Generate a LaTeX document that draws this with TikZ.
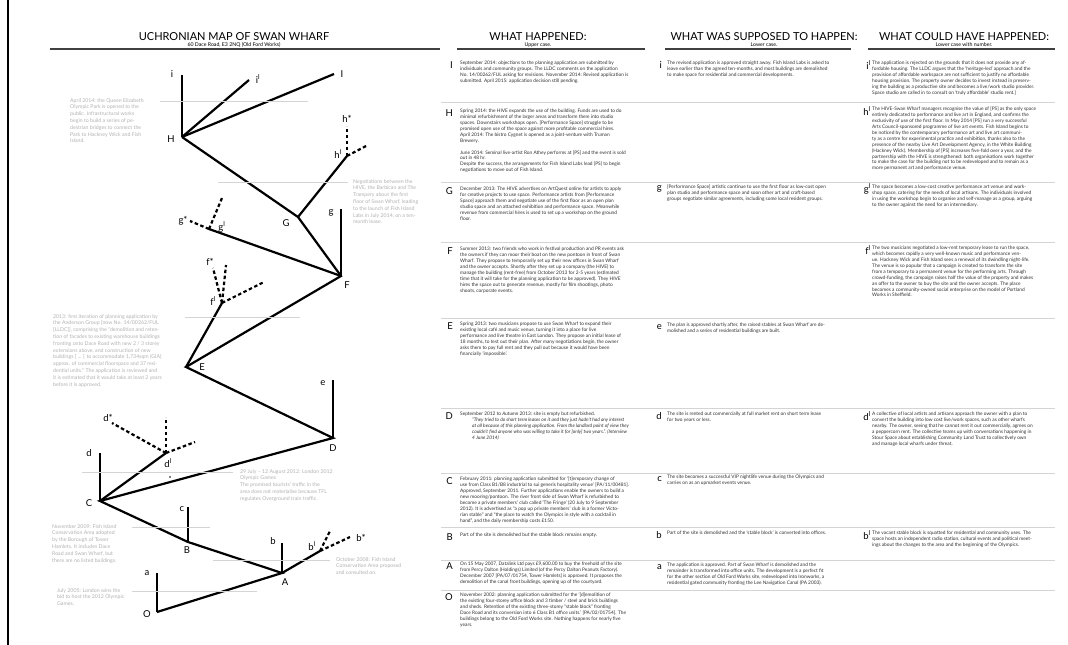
\documentclass[tikz,border=0pt]{standalone}
\usepackage{fontspec}
\setmainfont{Lato}
\usetikzlibrary{positioning}
\definecolor{inkgrey}{HTML}{303030}
\definecolor{notegrey}{HTML}{B2B2B2}
\definecolor{rulegrey}{HTML}{D4D4D4}
\tikzstyle{branch} = [line width=2.2pt, line cap=butt, line join=miter]
\tikzstyle{ghost} = [line width=2.2pt, dash pattern=on 3.5pt off 2.5pt]
\tikzstyle{vlabel} = [inner sep=0pt, font=\fontsize{9.5}{10}\selectfont]
\tikzstyle{note} = [inner sep=0pt, anchor=north west, align=left, text=notegrey, font=\fontsize{5.2}{6.8}\selectfont]
\tikzstyle{body} = [inner sep=0pt, anchor=north west, align=left, text=inkgrey, font=\fontsize{4.8}{5.9}\selectfont]
\tikzstyle{quote} = [body, font=\fontsize{4.8}{5.9}\selectfont\itshape]
\tikzstyle{rowletter} = [inner sep=0pt, font=\fontsize{9.5}{10}\selectfont]
\tikzstyle{heading} = [inner sep=0pt, font=\fontsize{11}{12}\selectfont]
\tikzstyle{subhead} = [inner sep=0pt, font=\fontsize{5.2}{6}\selectfont]
\tikzstyle{headrule} = [line width=1.1pt, draw=black!75]
\tikzstyle{rowrule} = [line width=0.8pt, draw=rulegrey]
\tikzstyle{timeline} = [line width=0.6pt, draw=rulegrey]

\begin{document}
\begin{tikzpicture}[x=1pt, y=-1pt]
\useasboundingbox[fill=white] (0,0) rectangle (1068,645);
\draw[line width=2pt] (8,0) -- (8,645);

% headings
\node[heading] (hdMap) at (234,37) {UCHRONIAN MAP OF SWAN WHARF};
\node[subhead] (sbMap) at (234,45) {60 Dace Road, E3 2NQ (Old Ford Works)};
\draw[headrule] (50,49) -- (440,49);
\node[heading] (hdDid) at (538,37) {WHAT HAPPENED:};
\node[subhead] (sbDid) at (538,45) {Upper case.};
\draw[headrule] (457,49) -- (645,49);
\node[heading] (hdWas) at (764,37) {WHAT WAS SUPPOSED TO HAPPEN:};
\node[subhead] (sbWas) at (764,45) {Lower case.};
\draw[headrule] (665,49) -- (851,49);
\node[heading] (hdCould) at (964,37) {WHAT COULD HAVE HAPPENED:};
\node[subhead] (sbCould) at (964,45) {Lower case with number.};
\draw[headrule] (868,49) -- (1055,49);

% row rules
\foreach \ry in {102,182,242,318,408,473,527,560,590}
  \draw[rowrule] (441,\ry) -- (1055,\ry);

% tree
\coordinate (vO) at (157,612);  \coordinate (va) at (157,573);
\coordinate (vA) at (282,573);  \coordinate (vb) at (282,543);
\coordinate (vb1) at (320,551); \coordinate (xb1) at (330,531); \coordinate (vbs) at (350,537);
\coordinate (vB) at (188,542);  \coordinate (vc) at (188,507);
\coordinate (vC) at (100,501);  \coordinate (vd) at (100,453);
\coordinate (vd1) at (166,453); \coordinate (xd1) at (166,417); \coordinate (xd2) at (195,442); \coordinate (vds) at (112,423);
\coordinate (vD) at (333,438);  \coordinate (ve) at (333,380);
\coordinate (vE) at (186,367);
\coordinate (vf1) at (222,303); \coordinate (xf1) at (226,265); \coordinate (xf2) at (264,282); \coordinate (vfs) at (213,268);
\coordinate (vF) at (341,276);  \coordinate (vg) at (341,209);
\coordinate (vg1) at (209,229); \coordinate (xg1) at (222,198); \coordinate (vgs) at (190,221);
\coordinate (vG) at (298,217);
\coordinate (vh1) at (347,156); \coordinate (vhs) at (347,126); \coordinate (xh1) at (368,145);
\coordinate (vH) at (182,137);  \coordinate (vi) at (182,75);
\coordinate (vi1) at (249,80);  \coordinate (vI) at (334,74);

\draw[branch] (vO) -- (vA) -- (vB) -- (vC) -- (vD) -- (vE) -- (vF) -- (vG) -- (vH);
\draw[branch] (vO) -- (va);
\draw[branch] (vA) -- (vb);
\draw[branch] (vA) -- (vb1);
\draw[branch] (vB) -- (vc);
\draw[branch] (vC) -- (vd);
\draw[branch] (vC) -- (vd1);
\draw[branch] (vD) -- (ve);
\draw[branch] (vE) -- (vf1);
\draw[branch] (vF) -- (vg);
\draw[branch] (vF) -- (vg1);
\draw[branch] (vG) -- (vh1);
\draw[branch] (vH) -- (vi);
\draw[branch] (vH) -- (vi1);
\draw[branch] (vH) -- (vI);
\foreach \s/\t in {vb1/xb1, vb1/vbs, vd1/xd1, vd1/xd2, vd1/vds, vf1/xf1, vf1/xf2, vf1/vfs, vg1/xg1, vg1/vgs, vh1/vhs, vh1/xh1}
  \draw[ghost] (\s) -- (\t);
\fill (170,477) circle (0.8);

\node[vlabel] (lO) at (147,614) {O};
\node[vlabel] (la) at (147,573) {a};
\node[vlabel] (lA) at (285,582) {A};
\node[vlabel] (lb) at (273,541) {b};
\node[vlabel] (lb1) at (312,546) {b\textsuperscript{l}};
\node[vlabel] (lbs) at (361,538) {b*};
\node[vlabel] (lB) at (187,550) {B};
\node[vlabel] (lc) at (182,509) {c};
\node[vlabel] (lC) at (89,503) {C};
\node[vlabel] (ld) at (89,453) {d};
\node[vlabel] (ld1) at (168,463) {d\textsuperscript{l}};
\node[vlabel] (lds) at (108,418) {d*};
\node[vlabel] (lD) at (333,448) {D};
\node[vlabel] (le) at (323,383) {e};
\node[vlabel] (lE) at (202,367) {E};
\node[vlabel] (lf1) at (213,301) {f\textsuperscript{l}};
\node[vlabel] (lfs) at (210,262) {f*};
\node[vlabel] (lF) at (347,285) {F};
\node[vlabel] (lg) at (331,213) {g};
\node[vlabel] (lg1) at (222,227) {g\textsuperscript{l}};
\node[vlabel] (lgs) at (183,221) {g*};
\node[vlabel] (lG) at (286,223) {G};
\node[vlabel] (lh1) at (338,154) {h\textsuperscript{l}};
\node[vlabel] (lhs) at (347,119) {h*};
\node[vlabel] (lH) at (171,139) {H};
\node[vlabel] (li) at (172,74) {i};
\node[vlabel] (li1) at (258,79) {i\textsuperscript{l}};
\node[vlabel] (lI) at (342,74) {I};

% timeline notes
\draw[timeline] (160,101) -- (308,101);
\node[note] (nPark) at (70,98) {April 2014: the Queen Elizabeth\\Olympic Park is opened to the\\public. Infrastructural works\\begin to build a series of pe-\\destrian bridges to connect the\\Park to Hackney Wick and Fish\\Island.};
\draw[timeline] (218,182) -- (348,182);
\node[note] (nLabs) at (353,179) {Negotiations between the\\HIVE, the Barbican and The\\Trampery about the first\\floor of Swan Wharf, leading\\to the launch of Fish Island\\Labs in July 2014, on a ten-\\month lease.};
\draw[timeline] (185,317) -- (300,317);
\node[note] (nAnderson) at (53,314) {2013: first iteration of planning application by\\the Anderson Group [now No. 14/00262/FUL\\{[}LLDC{]}], comprising  the ``demolition and reten-\\tion of facades to existing warehouse buildings\\fronting onto Dace Road with new 2 / 3 storey\\extensions above, and construction of new\\buildings [ ... ] to accommodate 1,734sqm (GIA)\\approx. of commercial floorspace and 37 resi-\\dential units.'' The application is reviewed and\\it is estimated that it would take at least 2 years\\before it is approved.};
\draw[timeline] (82,472) -- (233,472);
\node[note] (nGames) at (240,469) {29 July -- 12 August 2012: London 2012\\Olympic Games\\The promised tourists' traffic in the\\area does not materialise because TFL\\regulates Overground train traffic.};
\draw[timeline] (132,527) -- (210,527);
\node[note] (nAdopted) at (52,524) {November 2009: Fish Island\\Conservation Area adopted\\by the Borough of Tower\\Hamlets. It includes Dace\\Road and Swan Wharf, but\\there are no listed buildings.};
\draw[timeline] (213,560) -- (330,560);
\node[note] (nProposed) at (336,557) {October 2008: Fish Island\\Conservation Area proposed\\and consulted on.};
\draw[timeline] (132,591) -- (257,591);
\node[note] (nBid) at (57,588) {July 2005: London wins the\\bid to host the 2012 Olympic\\Games.};

% what happened
\node[body] (tI) at (460,61) {September 2014: objections to the planning application are submitted by\\individuals and community groups. The LLDC comments on the application\\No. 14/00262/FUL asking for revisions. November 2014: Revised application is\\submitted. April 2015: application decision still pending.};
\node[rowletter, left=7pt] (kI) at ([yshift=-4pt]tI.north west) {I};
\node[body] (tH) at (460,109) {Spring 2014: the HIVE expands the use of the building.  Funds are used to do\\minimal refurbishment of the larger areas and transform them into studio\\spaces. Downstairs workshops open. [Performance Space] struggle to be\\promised open use of the space against more profitable commercial hires.\\April 2014: The bistro Cygnet is opened as a joint-venture with Truman\\Brewery.\\[5.9pt]June 2014: Seminal live-artist Ron Athey performs at [PS] and the event is sold\\out in 48 hr.\\Despite the success, the arrangements for Fish Island Labs lead [PS] to begin\\negotiations to move out of Fish Island.};
\node[rowletter, left=7pt] (kH) at ([yshift=-4pt]tH.north west) {H};
\node[body] (tG) at (460,187) {December 2013: The HIVE advertises on ArtQuest online for artists to apply\\for creative projects to use space. Performance artists from [Performance\\Space] approach them and negotiate use of the first floor as an open plan\\studio space and an attached exhibition and performance space. Meanwhile\\revenue from commercial hires is used to set up a workshop on the ground\\floor.};
\node[rowletter, left=7pt] (kG) at ([yshift=-4pt]tG.north west) {G};
\node[body] (tF) at (460,247) {Summer 2013: two friends who work in festival production and PR events ask\\the owners if they can moor their boat on the new pontoon in front of Swan\\Wharf. They propose to temporarily set up their new offices in Swan Wharf\\and the owner accepts. Shortly after they set up a company (the HIVE) to\\manage the building (rent-free) from October 2013 for 2-5 years (estimated\\time that it will take for the planning application to be approved). They HIVE\\hires the space out to generate revenue, mostly for film shootings, photo\\shoots, corporate events.};
\node[rowletter, left=7pt] (kF) at ([yshift=-4pt]tF.north west) {F};
\node[body] (tE) at (460,322) {Spring 2013: two musicians propose to use Swan Wharf to expand their\\existing local café and music venue, turning it into a place for live\\performance and live theatre in East London. They propose an initial lease of\\18 months, to test out their plan. After many negotiations begin, the owner\\asks them to pay full rent and they pull out because it would have been\\financially `impossible'.};
\node[rowletter, left=7pt] (kE) at ([yshift=-4pt]tE.north west) {E};
\node[body] (tD) at (460,412) {September 2012 to \textit{Autumn} 2013: site is empty but refurbished.};
\node[quote] (qD) at (472,418) {``They tried to do short term leases on it and they just hadn't had any interest\\at all because of this planning application. From the landlord point of view they\\couldn't find anyone who was willing to take it for [only] two years.''. (Interview\\4 June 2014)};
\node[rowletter, left=7pt] (kD) at ([yshift=-4pt]tD.north west) {D};
\node[body] (tC) at (460,477) {February 2011: planning application submitted for `[t]emporary change of\\use from Class B1/B8 industrial to sui generis hospitality venue' [PA/11/00481].\\Approved, September 2011. Further applications enable the owners to build a\\new mooring/pontoon. The river front side of Swan Wharf is refurbished to\\become a private members' club called `The Fringe' (20 July to 9 September\\2012). It is advertised as ``a pop up private members' club in a former Victo-\\rian stable'' and ``the place to watch the Olympics in style with a cocktail in\\hand'', and the daily membership costs £150.};
\node[rowletter, left=7pt] (kC) at ([yshift=-4pt]tC.north west) {C};
\node[body] (tB) at (460,533) {Part of the site is demolished but the stable block remains empty.};
\node[rowletter, left=7pt] (kB) at ([yshift=-4pt]tB.north west) {B};
\node[body] (tA) at (460,562) {On 15 May 2007, Datalink Ltd pays £9,600.00 to buy the freehold of the site\\from Percy Dalton (Holdings) Limited (of the Percy Dalton Peanuts Factory).\\December 2007 [PA/07/01754, Tower Hamlets] is approved.  It proposes the\\demolition of the canal front buildings, opening up of the courtyard.};
\node[rowletter, left=7pt] (kA) at ([yshift=-4pt]tA.north west) {A};
\node[body] (tO) at (460,593) {November 2002: planning application submitted for the `[d]emolition of\\the existing four-storey office block and 3 timber / steel and brick buildings\\and sheds. Retention of the existing three-storey ``stable block'' fronting\\Dace Road and its conversion into 6 Class B1 office units.' [PA/02/01754]. The\\buildings belong to the Old Ford Works site. Nothing happens for nearly five\\years.};
\node[rowletter, left=7pt] (kO) at ([yshift=-4pt]tO.north west) {O};

% what was supposed to happen
\node[body] (ti) at (667,61) {The revised application is approved straight away. Fish Island Labs is asked to\\leave earlier than the agreed ten-months, and most buildings are demolished\\to make space for residential and commercial developments.};
\node[rowletter, left=5pt] (ki) at ([yshift=-4pt]ti.north west) {i};
\node[body] (tg) at (667,185) {[Performance Space] artistic continue to use the first floor as low-cost open\\plan studio and performance space and soon other art and craft-based\\groups negotiate similar agreements, including some local resident groups.};
\node[rowletter, left=5pt] (kg) at ([yshift=-4pt]tg.north west) {g};
\node[body] (te) at (667,323) {The plan is approved shortly after, the raised stables at Swan Wharf are de-\\molished and a series of residential buildings are built.};
\node[rowletter, left=5pt] (ke) at ([yshift=-4pt]te.north west) {e};
\node[body] (td) at (667,412) {The site is rented out commercially at full market rent on short term lease\\for two years or less.};
\node[rowletter, left=5pt] (kd) at ([yshift=-4pt]td.north west) {d};
\node[body] (tc) at (667,475) {The site becomes a successful VIP nightlife venue during the Olympics and\\carries on as an upmarket events venue.};
\node[rowletter, left=5pt] (kc) at ([yshift=-4pt]tc.north west) {c};
\node[body] (tb) at (667,531) {Part of the site is demolished and the `stable block' is converted into offices.};
\node[rowletter, left=5pt] (kb) at ([yshift=-4pt]tb.north west) {b};
\node[body] (ta) at (667,563) {The application is approved. Part of Swan Wharf is demolished and the\\remainder is transformed into office units. The development is a perfect fit\\for the other section of Old Ford Works site, redeveloped into Ironworks, a\\residential gated community fronting the Lee Navigation Canal (PA 2003).};
\node[rowletter, left=5pt] (ka) at ([yshift=-4pt]ta.north west) {a};

% what could have happened
\node[body] (ti1) at (872,61) {The application is rejected on the grounds that it does not provide any af-\\fordable housing. The LLDC argues that the `heritage-led' approach and the\\provision of affordable workspace are not sufficient to justify no affordable\\housing provision. The property owner decides to invest instead in preserv-\\ing the building as a productive site and becomes a live/work studio provider.\\Space studio are called in to consult on `truly affordable' studio rent.]};
\node[rowletter, left=1pt] (ki1) at ([yshift=-4pt]ti1.north west) {i\textsuperscript{l}};
\node[body] (th1) at (872,107) {The HIVE-Swan Wharf managers recognise the value of [PS] as the only space\\entirely dedicated to performance and live art in England, and confirms the\\exclusivity of use of the first floor. In May 2014 [PS] run a very successful\\Arts Council-sponsored programme of live art events. Fish Island begins to\\be noticed by the contemporary performance art and live art communi-\\ty as a centre for experimental practice and exhibition, thanks also to the\\presence of the nearby Live Art Development Agency, in the White Building\\(Hackney Wick). Membership of [PS] increases five-fold over a year, and the\\partnership with the HIVE is strengthened: both organisations work together\\to make the case for the building not to be redeveloped and to remain as a\\more permanent art and performance venue.};
\node[rowletter, left=1pt] (kh1) at ([yshift=-4pt]th1.north west) {h\textsuperscript{l}};
\node[body] (tg1) at (872,185) {The space becomes a low-cost creative performance art venue and work-\\shop space, catering for the needs of local artisans. The individuals involved\\in using the workshop begin to organise and self-manage as a group, arguing\\to the owner against the need for an intermediary.};
\node[rowletter, left=1pt] (kg1) at ([yshift=-4pt]tg1.north west) {g\textsuperscript{l}};
\node[body] (tf1) at (872,246) {The two musicians negotiated a low-rent temporary lease to run the space,\\which becomes rapidly a very well-known music and performance ven-\\ue.  Hackney Wick and Fish Island sees a renewal of its dwindling night-life.\\The venue is so popular that a campaign is created to transform the site\\from a temporary to a permanent venue for the performing arts. Through\\crowd-funding, the campaign raises half the value of the property and makes\\an offer to the owner to buy the site and the owner accepts. The place\\becomes a community-owned social enterprise on the model of Portland\\Works in Sheffield.};
\node[rowletter, left=1pt] (kf1) at ([yshift=-4pt]tf1.north west) {f\textsuperscript{l}};
\node[body] (td1) at (872,412) {A collective of local artists and artisans approach the owner with a plan to\\convert the building into low cost live/work spaces, such as other wharfs\\nearby. The owner, seeing that he cannot rent it out commercially, agrees on\\a peppercorn rent. The collective teams up with conversations happening in\\Stour Space about establishing Community Land Trust to collectively own\\and manage local wharfs under threat.};
\node[rowletter, left=1pt] (kd1) at ([yshift=-4pt]td1.north west) {d\textsuperscript{l}};
\node[body] (tb1) at (872,531) {The vacant stable block is squatted for residential and community uses. The\\space hosts an independent radio station, cultural events and political meet-\\ings about the changes to the area and the beginning of the Olympics.};
\node[rowletter, left=1pt] (kb1) at ([yshift=-4pt]tb1.north west) {b\textsuperscript{l}};
\end{tikzpicture}
\end{document}
